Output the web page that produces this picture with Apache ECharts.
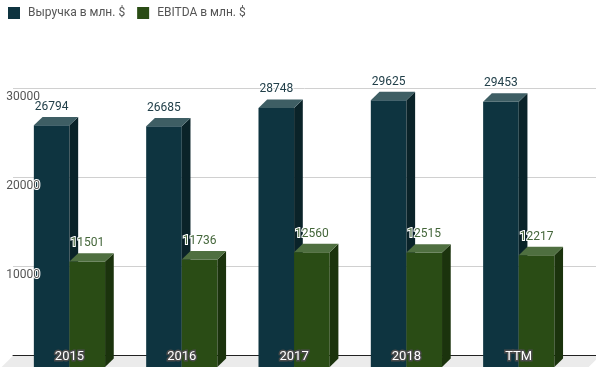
<!DOCTYPE html>
<html><head><meta charset="utf-8">
<script src="https://cdn.jsdelivr.net/npm/echarts@6/dist/echarts.min.js"></script>
<style>html,body{margin:0;padding:0;background:#fff}#c{width:596px;height:367px}</style>
</head><body><div id="c"></div>
<script>
const categories = ['2015', '2016', '2017', '2018', 'TTM'];
const revenue = [26794, 26685, 28748, 29625, 29453];
const ebitda = [11501, 11736, 12560, 12515, 12217];
const seriesNames = ['Выручка в млн. $', 'EBITDA в млн. $'];
const yMax = 30000, yInterval = 10000;

const DX = 8.7, DY = 8.4;
const palettes = [
  {front: '#0e3440', top: '#3e5e64', side: '#0a2329', label: '#22404a'},
  {front: '#2a4c15', top: '#4f6f40', side: '#1b330d', label: '#44663a'}
];

function makeRender(k) {
  const p = palettes[k];
  return function (params, api) {
    const i = api.value(0), v = api.value(1);
    const base = api.coord([i, 0]);
    const top = api.coord([i, v]);
    const band = api.size([1, 0])[0];
    const w = band * 0.317;
    const x0 = k === 0 ? base[0] - w : base[0];
    const x1 = x0 + w;
    const yT = top[1], yB = base[1] + 3;
    return {
      type: 'group',
      children: [
        {type: 'polygon', shape: {points: [[x0, yT], [x1, yT], [x1, yB], [x0, yB]]}, style: {fill: p.front}},
        {type: 'polygon', shape: {points: [[x1, yT], [x1 + DX, yT - DY], [x1 + DX, yB - DY], [x1, yB]]}, style: {fill: p.side}},
        {type: 'polygon', shape: {points: [[x0, yT], [x0 + DX, yT - DY], [x1 + DX, yT - DY], [x1, yT]]}, style: {fill: p.top}},
        {type: 'text', z2: 10, style: {text: String(v), x: (x0 + x1) / 2, y: yT - 18.5, align: 'center', verticalAlign: 'middle',
          fill: p.label, font: '12px Roboto', stroke: '#fff', lineWidth: 2}}
      ]
    };
  };
}

const chart = echarts.init(document.getElementById('c'), null, {renderer: 'canvas'});
const option = {
  animation: false,
  textStyle: {fontFamily: 'Roboto'},
  legend: {
    left: 3, top: 2, itemWidth: 12, itemHeight: 12, itemGap: 12,
    icon: 'rect',
    textStyle: {color: '#555', fontSize: 12, fontFamily: 'Roboto', padding: [0, 0, 0, 3]},
    data: seriesNames
  },
  grid: [
    {left: 13, right: 0, top: 88.4, bottom: 11.3},
    {left: 13.3, right: 21.1, top: 96.8, bottom: 3}
  ],
  graphic: {
    elements: [
      {type: 'polygon', z: -10, silent: true,
        shape: {points: [[13, 355.7], [600, 355.7], [585, 370.7], [-2, 370.7]]},
        style: {fill: '#ebebeb'}}
    ]
  },
  xAxis: [
    {gridIndex: 0, type: 'value', min: 0, max: 1, axisLabel: {show: false}, axisTick: {show: false}, splitLine: {show: false},
      axisLine: {show: true, lineStyle: {color: '#222', width: 1}}},
    {gridIndex: 1, type: 'category', data: categories, z: 20,
      axisLine: {show: false}, axisTick: {show: false},
      axisLabel: {inside: true, margin: 1, verticalAlign: 'bottom', color: '#fff', fontSize: 13, fontFamily: 'Roboto',
        textBorderColor: '#4a4a4a', textBorderWidth: 3}}
  ],
  yAxis: [
    {gridIndex: 0, type: 'value', min: 0, max: yMax, interval: yInterval,
      axisLabel: {show: false}, axisLine: {show: false}, axisTick: {show: false},
      splitLine: {lineStyle: {color: '#d0d0d0', width: 1}}},
    {gridIndex: 1, type: 'value', min: 0, max: yMax, interval: yInterval, z: 20,
      axisLine: {show: false}, axisTick: {show: false}, splitLine: {show: false},
      axisLabel: {inside: true, margin: -7, showMinLabel: false, color: '#555', fontSize: 12, fontFamily: 'Roboto',
        formatter: v => String(v),
        textBorderColor: '#fff', textBorderWidth: 2}}
  ],
  series: [
    {name: seriesNames[0], type: 'custom', xAxisIndex: 1, yAxisIndex: 1, renderItem: makeRender(0),
      itemStyle: {color: palettes[0].front}, encode: {x: 0, y: 1},
      data: revenue.map((v, i) => [i, v])},
    {name: seriesNames[1], type: 'custom', xAxisIndex: 1, yAxisIndex: 1, renderItem: makeRender(1),
      itemStyle: {color: palettes[1].front}, encode: {x: 0, y: 1},
      data: ebitda.map((v, i) => [i, v])}
  ]
};
chart.setOption(option);
</script>
</body></html>
